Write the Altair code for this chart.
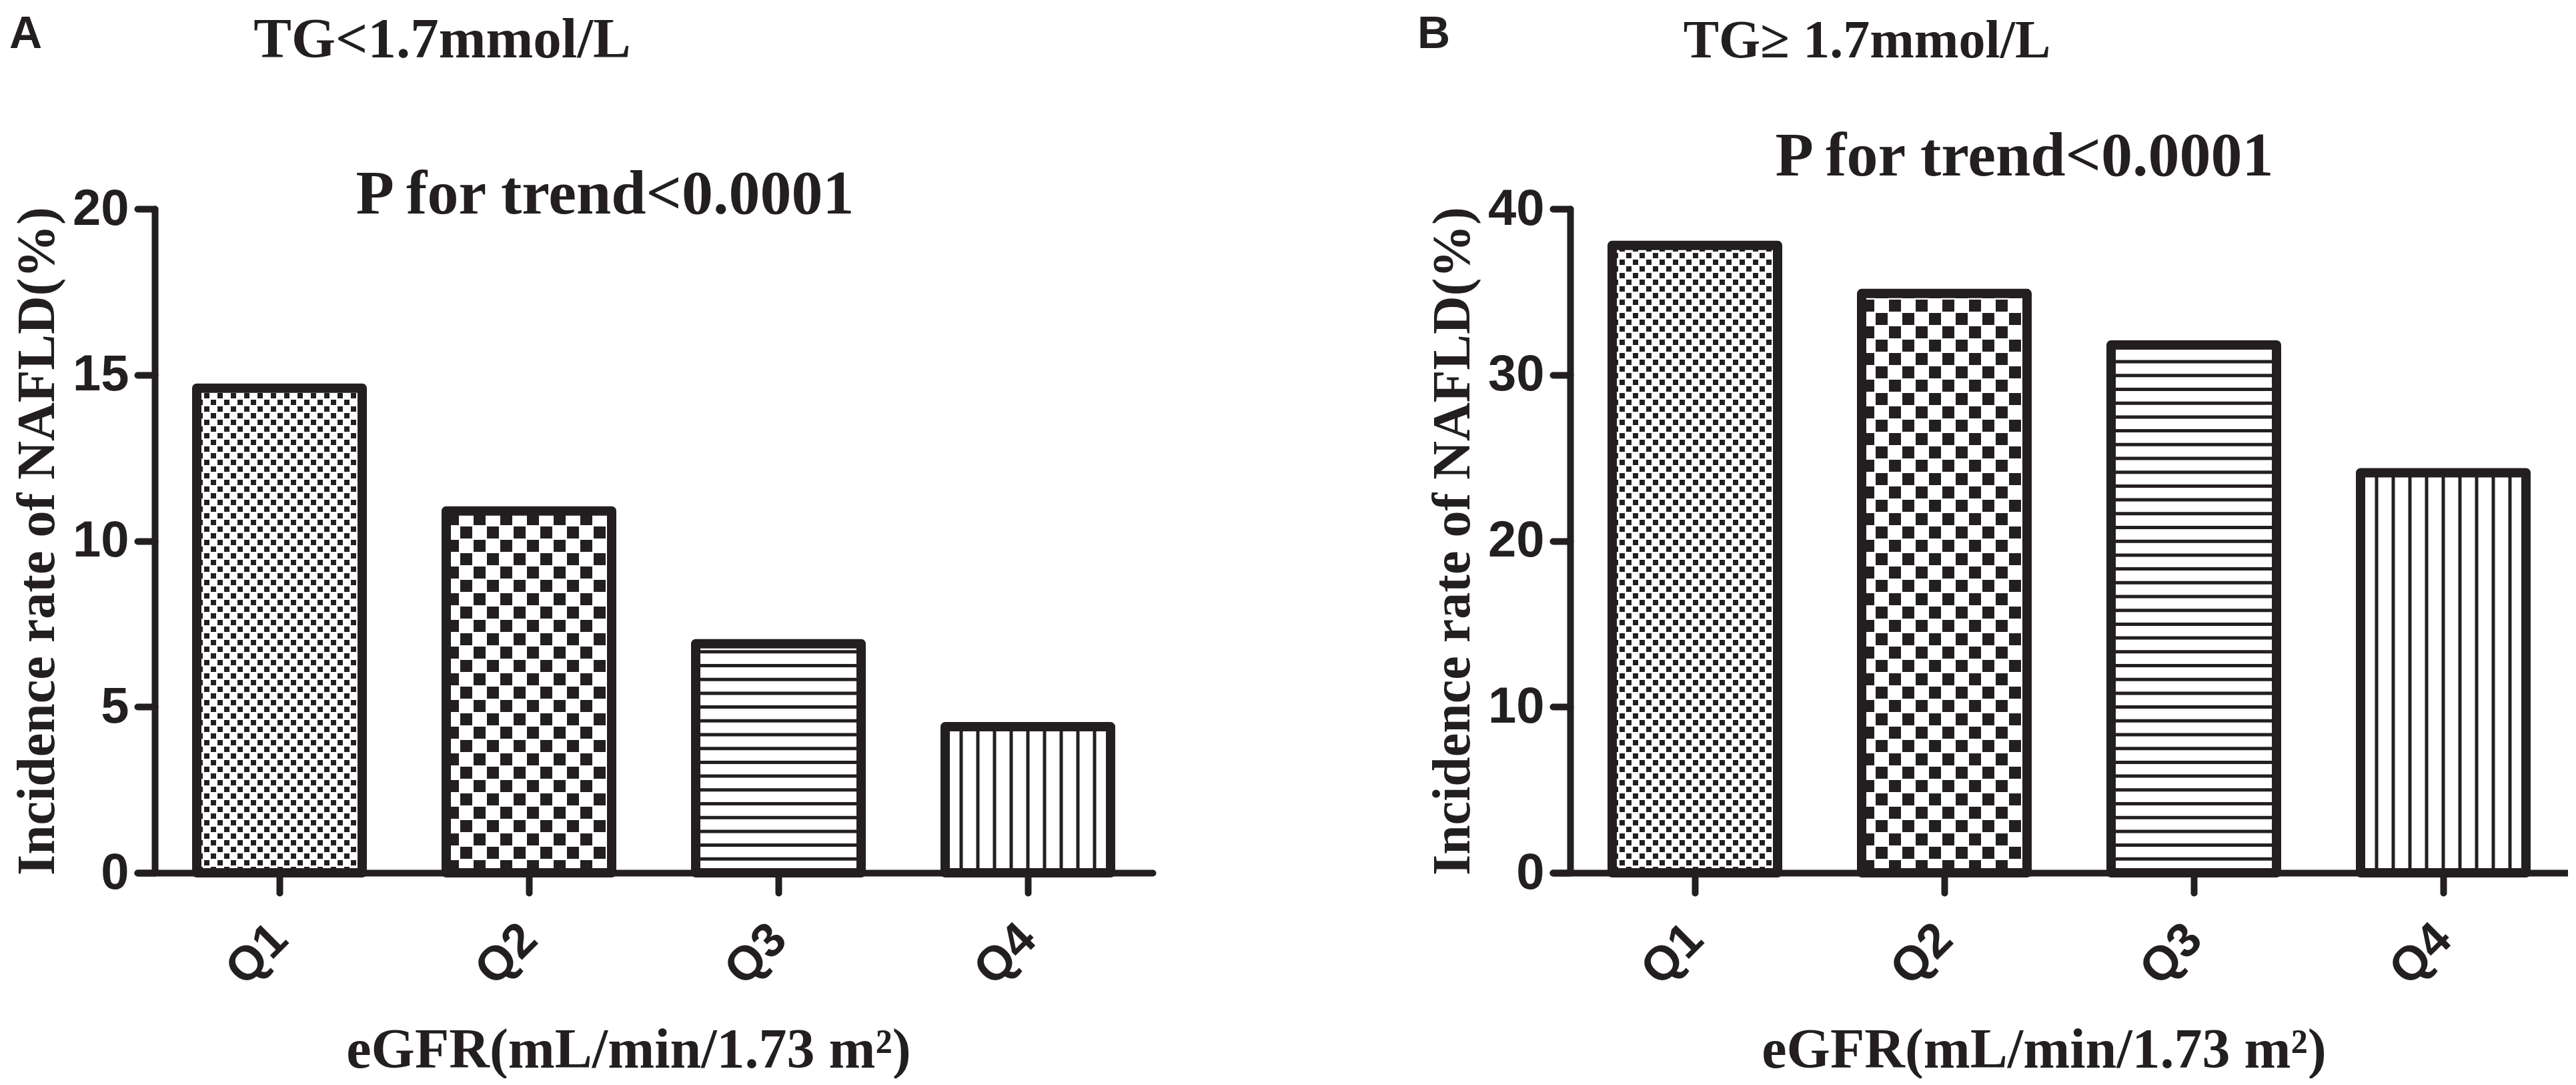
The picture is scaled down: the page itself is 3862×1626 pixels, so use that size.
import json
import math
import altair as alt
import pandas as pd

# ---------------- data ----------------
CATEGORIES = ["Q1", "Q2", "Q3", "Q4"]
VALUES_A = [14.6, 10.9, 6.9, 4.4]      # TG < 1.7 mmol/L
VALUES_B = [37.8, 34.9, 31.8, 24.1]    # TG >= 1.7 mmol/L
FILLS = ["fine_checker", "checker", "hlines", "vlines"]
Y_TICKS_A = [0, 5, 10, 15, 20]
Y_TICKS_B = [0, 10, 20, 30, 40]
Y_MAX = [20, 40]
PANEL_LABELS = ["A", "B"]
PANEL_TITLES = ["TG<1.7mmol/L", "TG\u2265 1.7mmol/L"]
TREND_TEXT = ["P for trend<0.0001", "P for trend<0.0001"]
Y_TITLE = "Incidence rate of NAFLD(%)"
X_TITLE = "eGFR(mL/min/1.73 m\u00b2)"

# ---------------- style / geometry ----------------
INK = "#231f20"
SERIF = "Liberation Serif, Times New Roman, serif"
SANS = "Liberation Sans, Arial, sans-serif"

STEP = 374.0          # px per category
EXT = 26.0            # x-axis extension left of the y axis (px)
W = EXT + 4 * STEP    # plot width
H = 995.0             # plot height
HALF = 124.0          # half bar width (px)
STROKE = 14


def pattern_rows(values, ymax):
    ppy = H / ymax
    rows = []
    for i, (cat, v, kind) in enumerate(zip(CATEGORIES, values, FILLS)):
        left_px = (i + 0.5) * STEP - HALF
        width_px = 2 * HALF
        top_px = v * ppy

        def add(x0, x1, y0, y1):
            x0 = max(x0, 0.0)
            x1 = min(x1, width_px)
            y1 = min(y1, top_px)
            if x1 > x0 and y1 > y0:
                rows.append({"cat": cat,
                             "x0": (left_px + x0) / STEP,
                             "x1": (left_px + x1) / STEP,
                             "y0": y0 / ppy,
                             "y1": y1 / ppy})

        if kind in ("fine_checker", "checker"):
            cell, ink = (10.0, 8.0) if kind == "fine_checker" else (20.0, 18.0)
            g = (cell - ink) / 2
            ncols = int(math.ceil(width_px / cell))
            nrows = int(math.ceil(top_px / cell))
            for r in range(nrows):
                for c in range(ncols):
                    if (r + c) % 2 == 0:
                        add(c * cell + g, c * cell + g + ink,
                            r * cell + g, r * cell + g + ink)
        elif kind == "hlines":
            pitch, th = 20.7, 5.0
            k = 1
            while k * pitch - th / 2 < top_px:
                add(0, width_px, k * pitch - th / 2, k * pitch + th / 2)
                k += 1
        else:
            pitch, th = 25.0, 5.0
            for j in range(9):
                xc = HALF + (j - 4) * pitch
                add(xc - th / 2, xc + th / 2, 0, top_px)
    return pd.DataFrame(rows)


def outline_rows(values):
    rows = []
    for i, (cat, v) in enumerate(zip(CATEGORIES, values)):
        left_px = (i + 0.5) * STEP - HALF
        rows.append({"cat": cat, "x0": left_px / STEP,
                     "x1": (left_px + 2 * HALF) / STEP, "y0": 0.0, "y1": v})
    return pd.DataFrame(rows)


def text_layer(txt, x, y, font, size, align="center"):
    return alt.Chart(pd.DataFrame({"t": [txt]})).mark_text(
        font=font, fontSize=size, fontWeight="bold", color=INK,
        align=align, baseline="alphabetic"
    ).encode(text="t:N", x=alt.value(x), y=alt.value(y))


def panel(idx, values, yticks, texts, anchor=False):
    ymax = Y_MAX[idx]
    xscale = alt.Scale(domain=[-EXT / STEP, 4.0], nice=False, zero=False)
    yscale = alt.Scale(domain=[0, ymax], nice=False, zero=True)
    label_expr = json.dumps(CATEGORIES) + "[floor(datum.value)]"
    xaxis = alt.Axis(
        values=[i + 0.5 for i in range(len(CATEGORIES))], labelExpr=label_expr,
        title=X_TITLE, grid=False,
        domainColor=INK, domainWidth=10, domainCap="round",
        tickColor=INK, tickWidth=10, tickCap="round", tickSize=30,
        labelFont=SANS, labelFontSize=72, labelFontWeight="bold", labelColor=INK,
        labelAngle=-45, labelAlign="right", labelBaseline="middle",
        labelPadding=58, labelFlush=False, labelOverlap=False,
        titleFont=SERIF, titleFontSize=84, titleFontWeight="bold", titleColor=INK,
        titleX=736, titleY=291, titleAlign="center", titleBaseline="alphabetic",
    )
    yaxis = alt.Axis(
        values=yticks, title=Y_TITLE, offset=-EXT, grid=False,
        domainColor=INK, domainWidth=10, domainCap="round",
        tickColor=INK, tickWidth=10, tickCap="round", tickSize=26,
        labelFont=SANS, labelFontSize=76, labelFontWeight="bold", labelColor=INK,
        labelPadding=13, labelFlush=False, labelOverlap=False, labelBaseline="middle",
        titleFont=SERIF, titleFontSize=80, titleFontWeight="bold", titleColor=INK,
        titlePadding=11,
    )
    cells = alt.Chart(pattern_rows(values, ymax)).mark_rect(color=INK).encode(
        x=alt.X("x0:Q", scale=xscale, axis=xaxis), x2="x1:Q",
        y=alt.Y("y0:Q", scale=yscale, axis=yaxis), y2="y1:Q",
    )
    outlines = alt.Chart(outline_rows(values)).mark_rect(
        fill="white", fillOpacity=0, stroke=INK, strokeWidth=STROKE, strokeJoin="round"
    ).encode(
        x=alt.X("x0:Q", scale=xscale, axis=xaxis), x2="x1:Q",
        y=alt.Y("y0:Q", scale=yscale, axis=yaxis), y2="y1:Q",
    )
    layers = [cells, outlines] + texts
    if anchor:
        layers.append(
            alt.Chart(pd.DataFrame({"a": [0]})).mark_rule(opacity=0, strokeWidth=1).encode(
                x=alt.value(-198), x2=alt.value(-198), y=alt.value(-305), y2=alt.value(-304)
            )
        )
    return alt.layer(*layers).properties(width=W, height=H)


texts_a = [
    text_layer(PANEL_LABELS[0], -192, -241, SANS, 68, align="left"),
    text_layer(PANEL_TITLES[0], 457, -227, SERIF, 85),
    text_layer(TREND_TEXT[0], 701, 7, SERIF, 94),
]
texts_b = [
    text_layer(PANEL_LABELS[1], -203, -241, SANS, 68, align="left"),
    text_layer(PANEL_TITLES[1], 471, -227, SERIF, 80),
    text_layer(TREND_TEXT[1], 707, -50, SERIF, 94),
]

pa = panel(0, VALUES_A, Y_TICKS_A, texts_a, anchor=True)
pb = panel(1, VALUES_B, Y_TICKS_B, texts_b)

chart = alt.hconcat(pa, pb, spacing=600, bounds="flush").properties(
    padding=0, background="white"
).configure_view(strokeWidth=0)

chart.save("out.html", embed_options={"renderer": "svg", "actions": False})
